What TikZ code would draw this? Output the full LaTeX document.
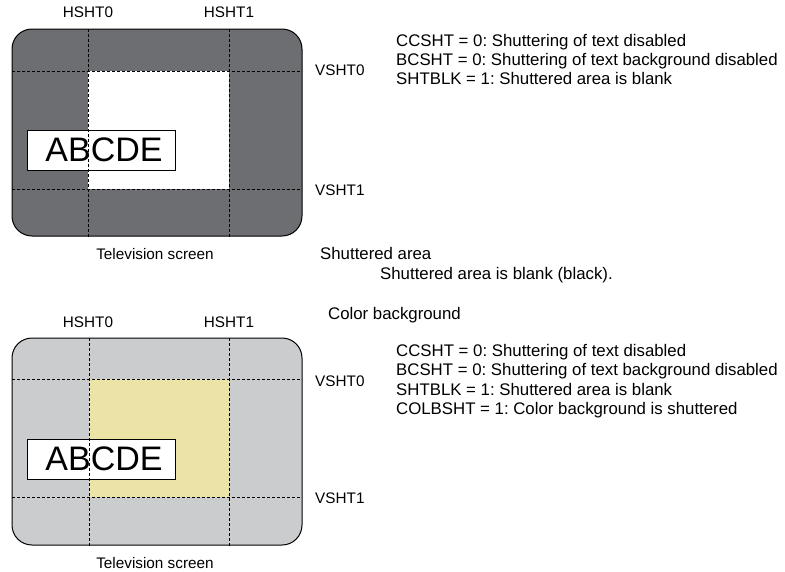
\documentclass[tikz,border=0pt]{standalone}
\usepackage{fontspec}
\setmainfont{Liberation Sans}
\frenchspacing
\definecolor{shutdark}{HTML}{6D6E71}
\definecolor{shutlight}{HTML}{CBCCCE}
\definecolor{colbg}{HTML}{ECE4A6}
\begin{document}
\begin{tikzpicture}[x=1pt,y=-1pt,
  screen/.style={draw=black,line width=1pt,rounded corners=20pt},
  grid/.style={draw=black,line width=1pt,dash pattern=on 3pt off 2pt},
  lbl/.style={font=\fontsize{15.3}{18}\selectfont,inner sep=0pt,anchor=base},
  lblw/.style={font=\fontsize{15.3}{18}\selectfont,inner sep=0pt,anchor=base west},
  info/.style={font=\fontsize{16.8}{19}\selectfont,inner sep=0pt,anchor=base west},
  abox/.style={draw=black,line width=1pt,fill=white,inner sep=0pt,
    minimum width=148pt,minimum height=40pt,font=\fontsize{34}{40}\selectfont}]
\useasboundingbox (0,0) rectangle (785,571);

% ---------- top screen ----------
\fill[shutdark] [rounded corners=20pt] (12,29) rectangle (302,236);
\fill[white] (88,71) rectangle (229,189);
\node[abox] (boxA) at (101,150) {\hspace*{6pt}ABCDE};
\coordinate (tv0t) at (88,29);  \coordinate (tv0b) at (88,237);
\coordinate (tv1t) at (229,29); \coordinate (tv1b) at (229,237);
\coordinate (th0l) at (12,71);  \coordinate (th0r) at (302,71);
\coordinate (th1l) at (12,189); \coordinate (th1r) at (302,189);
\draw[grid] (tv0t) -- (tv0b);
\draw[grid] (tv1t) -- (tv1b);
\draw[grid] (th0l) -- (th0r);
\draw[grid] (th1l) -- (th1r);
\draw[screen] (12,29) rectangle (302,236);

\node[lbl] (hA0) at (88,17.5) {HSHT0};
\node[lbl] (hA1) at (229,17.5) {HSHT1};
\node[lblw] (vA0) at (315,75) {VSHT0};
\node[lblw] (vA1) at (315,195) {VSHT1};
\node[lbl] (tvA) at (155,259) {Television screen};
\node[info] (iA1) at (396,46) {CCSHT = 0: Shuttering of text disabled};
\node[info] (iA2) at (396,65) {BCSHT = 0: Shuttering of text background disabled};
\node[info] (iA3) at (396,84) {SHTBLK = 1: Shuttered area is blank};

\node[info] (sa) at (320,259) {Shuttered area};
\node[info] (sab) at (380,279) {Shuttered area is blank (black).};
\node[info] (cb) at (328,319) {Color background};

% ---------- bottom screen ----------
\fill[shutlight] [rounded corners=20pt] (12,338) rectangle (302,545);
\fill[colbg] (89,379) rectangle (229,497);
\node[abox] (boxB) at (101,459) {\hspace*{6pt}ABCDE};
\coordinate (bv0t) at (89,338);  \coordinate (bv0b) at (89,546);
\coordinate (bv1t) at (229,338); \coordinate (bv1b) at (229,546);
\coordinate (bh0l) at (12,379);  \coordinate (bh0r) at (302,379);
\coordinate (bh1l) at (12,497);  \coordinate (bh1r) at (302,497);
\draw[grid] (bv0t) -- (bv0b);
\draw[grid] (bv1t) -- (bv1b);
\draw[grid] (bh0l) -- (bh0r);
\draw[grid] (bh1l) -- (bh1r);
\draw[screen] (12,338) rectangle (302,545);

\node[lbl] (hB0) at (88,327) {HSHT0};
\node[lbl] (hB1) at (229,327) {HSHT1};
\node[lblw] (vB0) at (315,386) {VSHT0};
\node[lblw] (vB1) at (315,503) {VSHT1};
\node[lbl] (tvB) at (155,568) {Television screen};
\node[info] (iB1) at (396,356) {CCSHT = 0: Shuttering of text disabled};
\node[info] (iB2) at (396,375.5) {BCSHT = 0: Shuttering of text background disabled};
\node[info] (iB3) at (396,395) {SHTBLK = 1: Shuttered area is blank};
\node[info] (iB4) at (396,414.5) {COLBSHT = 1: Color background is shuttered};
\end{tikzpicture}
\end{document}
